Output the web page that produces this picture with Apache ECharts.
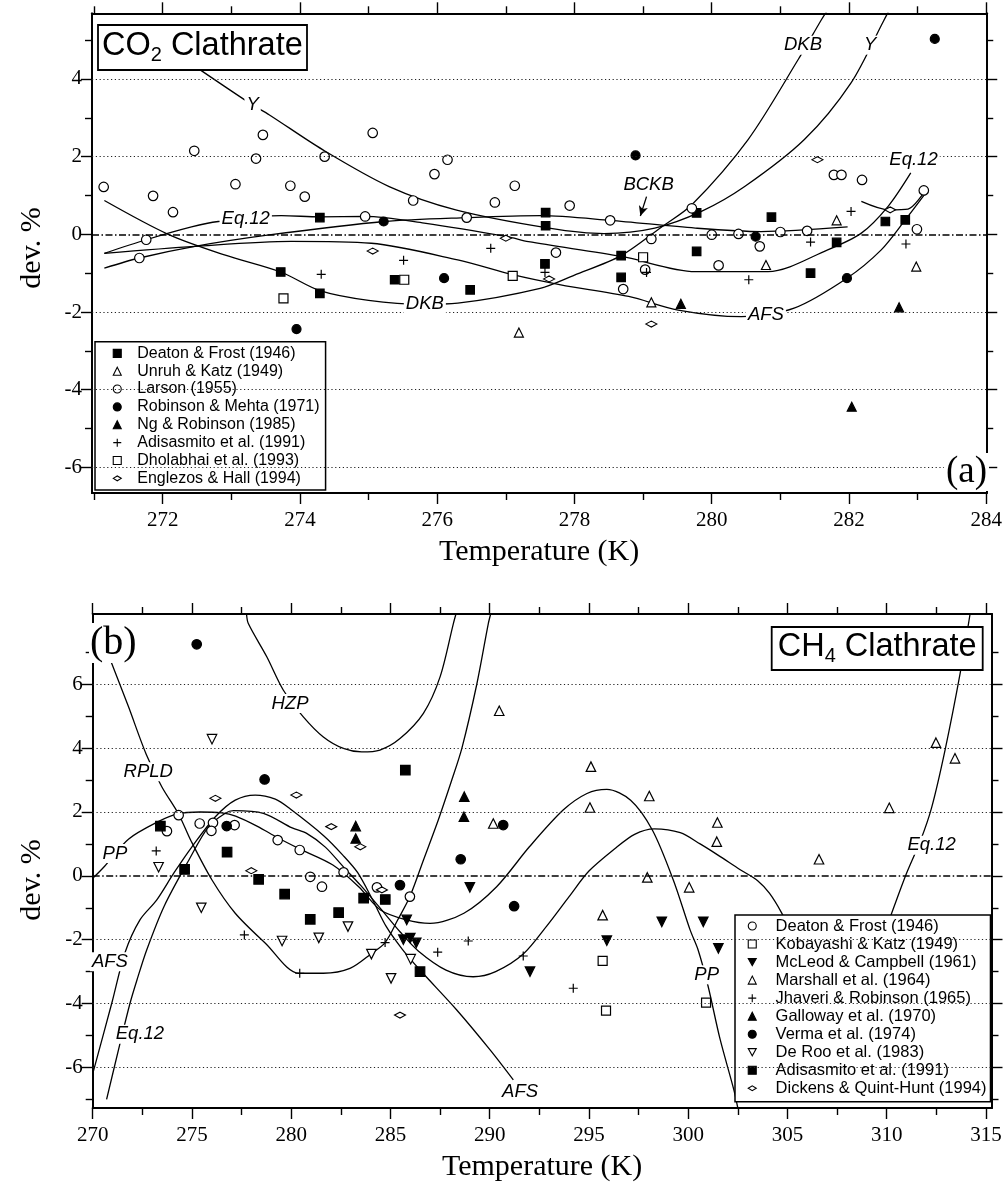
<!DOCTYPE html>
<html>
<head>
<meta charset="utf-8">
<script src="https://cdn.jsdelivr.net/npm/echarts@6/dist/echarts.min.js"></script>
<style>
  html, body { margin: 0; padding: 0; background: #fff; }
  #chart { width: 1005px; height: 1186px; }
</style>
</head>
<body>
<div id="chart"></div>
<script>
// ---------- (a) CO2 clathrate: deviations of measured dissociation pressures ----------
const co2DeatonFrost = [[274.29,0.43],[273.72,-0.97],[274.29,-1.52],[275.38,-1.17],[276.48,-1.43],[277.58,0.56],[277.58,0.22],[277.57,-0.76],[278.68,-0.55],[278.68,-1.11],[279.78,0.55],[279.78,-0.44],[280.87,0.44],[281.44,-1.0],[281.82,-0.21],[282.53,0.33],[282.82,0.37]];
const co2UnruhKatz = [[277.19,-2.53],[279.12,-1.75],[280.79,-0.79],[281.82,0.36],[282.98,-0.83]];
const co2Larson = [[271.14,1.22],[272.46,2.15],[271.86,0.99],[272.15,0.57],[273.06,1.29],[273.36,1.95],[273.46,2.56],[273.86,1.25],[274.07,0.97],[274.36,2.0],[275.06,2.61],[275.65,0.87],[275.96,1.55],[276.15,1.92],[276.84,0.82],[277.13,1.25],[274.95,0.46],[276.43,0.43],[271.76,-0.14],[271.66,-0.61],[277.93,0.74],[277.73,-0.47],[278.52,0.36],[278.71,-1.41],[279.12,-0.12],[279.71,0.67],[280.0,-0.01],[280.10,-0.80],[280.39,0.01],[280.70,-0.31],[281.0,0.06],[281.39,0.09],[281.78,1.53],[281.89,1.53],[282.19,1.40],[283.09,1.13],[282.99,0.13],[279.03,-0.91]];
const co2RobinsonMehta = [[275.22,0.33],[276.10,-1.13],[273.95,-2.44],[278.89,2.03],[280.64,-0.06],[281.97,-1.13],[283.25,5.03]];
const co2NgRobinson = [[279.55,-1.79],[282.73,-1.88],[282.04,-4.44]];
const co2Adisasmito = [[274.31,-1.03],[275.51,-0.67],[276.78,-0.36],[277.57,-0.98],[279.05,-0.98],[280.54,-1.17],[281.44,-0.20],[282.03,0.59],[282.83,-0.25]];
const co2Dholabhai = [[273.76,-1.65],[275.52,-1.17],[277.10,-1.07],[279.0,-0.59]];
const co2EnglezosHall = [[275.06,-0.43],[277.0,-0.1],[277.63,-1.15],[279.12,-2.31],[281.54,1.92],[282.6,0.63]];

// fitted-model deviation curves
const co2CurveY = [[272.45,4.35],[273.3,3.34],[273.55,3.08],[274.33,2.18],[275.3,1.23],[276.27,0.63],[277.63,0.16],[278.43,0.02],[279.17,0.16],[279.85,0.59],[280.48,1.23],[281.35,2.44],[282.03,3.9],[282.5,5.48],[282.58,5.75]];
const co2CurveDKB = [[271.15,0.87],[272.08,0.0],[272.9,-0.53],[273.72,-0.97],[274.29,-1.45],[275.0,-1.7],[275.8,-1.8],[276.3,-1.77],[277.5,-1.39],[278.0,-1.05],[278.68,-0.55],[279.27,0.19],[279.71,0.76],[280.53,2.44],[281.26,4.5],[281.6,5.53],[281.68,5.75]];
const co2CurveBCKB = [[271.15,-0.87],[271.66,-0.61],[272.47,-0.31],[273.58,-0.01],[275.23,0.33],[276.44,0.43],[277.51,0.48],[278.52,0.36],[279.76,0.16],[280.72,0.07],[281.98,0.19]];
const co2CurveEq12 = [[271.15,-0.49],[271.76,-0.14],[272.42,0.19],[272.81,0.33],[273.73,0.48],[274.29,0.45],[274.95,0.46],[275.81,0.29],[277.02,-0.06],[277.33,-0.19],[278.69,-0.57],[279.76,-0.96],[280.82,-0.96],[281.69,-0.40],[282.18,0.03],[282.57,0.72],[282.9,1.58]];
const co2CurveAFS = [[271.15,-0.49],[272.47,-0.31],[273.87,-0.18],[275.04,-0.23],[276.3,-0.66],[277.1,-1.04],[277.8,-1.3],[278.79,-1.6],[279.51,-1.95],[280.43,-2.12],[281.2,-1.9],[281.97,-1.13],[282.47,-0.40],[282.82,0.37],[283.1,1.02]];
const co2CurveArc = [[282.18,0.85],[282.59,0.63],[282.86,0.65],[283.1,1.1]];
const co2CurveLabels = [['Y',273.31,3.33],['DKB',281.33,4.87],['Y',282.31,4.87],['BCKB',279.08,1.27],['Eq.12',282.94,1.91],['Eq.12',273.21,0.39],['DKB',275.82,-1.78],['AFS',280.79,-2.08]];
const co2ArrowBCKB = [[279.05,0.97],[278.96,0.47]];

// ---------- (b) CH4 clathrate ----------
const ch4DeatonFrost = [[274.33,1.90],[273.74,1.40],[275.39,1.64],[276.06,1.66],[275.98,1.41],[277.15,1.59],[279.32,1.12],[280.43,0.81],[280.96,-0.03],[281.55,-0.34],[282.64,0.11],[284.32,-0.36],[285.98,-0.65]];
const ch4KobayashiKatz = [[295.69,-2.66],[295.86,-4.22],[300.9,-3.97]];
const ch4McLeodCampbell = [[289.0,-0.36],[285.82,-1.38],[285.65,-2.0],[286.0,-1.95],[286.3,-2.1],[292.03,-3.0],[295.9,-2.03],[298.67,-1.44],[300.76,-1.44],[301.52,-2.27]];
const ch4Marshall = [[295.1,3.42],[295.05,2.14],[298.04,2.50],[301.47,1.67],[301.44,1.07],[297.94,-0.05],[300.05,-0.36],[295.69,-1.23],[312.48,4.17],[313.44,3.68],[310.13,2.13],[306.59,0.52],[290.18,1.64],[290.48,5.17]];
const ch4JhaveriRobinson = [[273.2,0.78],[277.64,-1.85],[280.43,-3.05],[284.73,-2.09],[287.38,-2.39],[288.92,-2.04],[291.69,-2.51],[294.21,-3.52]];
const ch4Galloway = [[283.25,1.56],[283.25,1.17],[288.72,2.48],[288.70,1.85]];
const ch4Verma = [[275.24,7.25],[278.66,3.02],[276.75,1.56],[290.68,1.59],[288.54,0.52],[285.48,-0.29],[291.23,-0.95]];
const ch4DeRoo = [[276.01,4.28],[273.32,0.27],[275.47,-1.0],[279.54,-2.04],[281.39,-1.94],[282.86,-1.59],[284.04,-2.45],[285.03,-3.21],[286.02,-2.61]];
const ch4Adisasmito = [[273.41,1.56],[274.63,0.2],[276.77,0.74],[278.36,-0.11],[279.67,-0.57],[280.96,-1.36],[282.39,-1.15],[283.65,-0.70],[284.74,-0.74],[285.75,3.31],[286.49,-3.0]];
const ch4DickensQuintHunt = [[276.18,2.43],[280.26,2.53],[282.02,1.54],[283.48,0.91],[277.99,0.16],[284.57,-0.44],[285.48,-4.36]];

const ch4CurvePP = [[270.0,-0.08],[270.6,0.3],[271.8,1.15],[273.3,1.7],[274.3,1.95],[275.4,2.0],[276.5,1.97],[277.2,1.87],[278.3,1.55],[279.3,1.2],[280.4,0.85],[282.1,0.34],[283.4,-0.34],[284.5,-1.07],[285.8,-1.38],[287.0,-1.49],[288.7,-1.17],[290.35,-0.34],[292.0,0.91],[293.7,2.06],[294.9,2.58],[295.9,2.71],[297.1,2.37],[298.2,1.43],[299.25,-0.13],[300.1,-1.7],[300.5,-2.32],[301.0,-3.45],[301.6,-5.1],[302.3,-6.7],[302.5,-7.27]];
const ch4CurveRPLD = [[270.85,6.85],[270.96,6.65],[271.8,5.3],[272.7,3.8],[273.48,2.79],[274.33,1.93],[274.95,1.1],[276.01,-0.13],[277.18,-1.17],[278.7,-2.11],[280.38,-3.05],[281.62,-3.05],[282.96,-2.9],[284.05,-2.43],[284.73,-2.09],[285.35,-1.4],[285.98,-0.65],[286.66,0.49],[287.41,1.75],[288.09,3.0],[288.6,4.0],[289.35,6.0],[289.93,7.9],[290.05,8.2]];
const ch4CurveHZP = [[277.75,8.2],[277.84,7.9],[278.77,6.86],[279.6,5.82],[280.61,4.98],[281.62,4.35],[282.63,3.99],[283.55,3.88],[284.47,3.94],[285.48,4.3],[286.66,5.09],[287.5,6.23],[288.17,7.9],[288.3,8.2]];
const ch4CurveAFS = [[270.03,-6.13],[270.96,-3.99],[271.63,-2.4],[272.38,-1.38],[273.22,-0.76],[274.1,0.1],[275.0,0.91],[276.18,1.85],[277.18,2.37],[278.19,2.53],[279.2,2.4],[279.94,2.1],[281.65,1.25],[282.6,0.65],[283.35,0.1],[284.1,-0.75],[284.8,-1.6],[285.6,-2.3],[286.49,-2.95],[288.34,-4.2],[290.02,-5.45],[291.19,-6.39]];
const ch4CurveEq12 = [[270.7,-7.0],[271.38,-5.24],[271.88,-3.99],[272.23,-3.26],[272.72,-2.32],[273.6,-0.95],[274.84,0.49],[275.84,1.54],[276.68,1.96],[277.1,2.04],[278.6,1.96],[280.05,1.5],[280.78,1.33],[281.72,0.9],[282.63,0.28],[283.5,-0.3],[284.4,-0.95],[285.48,-1.75],[286.4,-2.35],[287.8,-2.95],[289.17,-3.16],[290.3,-3.0],[291.69,-2.45],[292.9,-1.55],[294.0,-0.65],[295.0,0.15],[296.3,0.85],[297.3,1.3],[298.3,1.47],[299.6,1.35],[300.6,1.0],[301.5,0.65],[302.6,0.2],[303.5,-0.15],[304.1,-0.55],[304.7,-1.15],[305.3,-1.9]];
const ch4CurveEq12High = [[309.7,-2.1],[310.25,-1.17],[311.0,0.08],[311.7,1.1],[312.26,2.13],[312.94,3.94],[313.7,6.34],[314.2,8.2]];
const ch4CurveLabels = [['HZP',279.94,5.40],['RPLD',272.8,3.26],['PP',271.12,0.70],['AFS',270.87,-2.69],['Eq.12',272.38,-4.96],['AFS',291.53,-6.76],['PP',300.93,-3.1],['Eq.12',312.26,0.96]];

// ---------- axis extents and ticks ----------
const co2TempRange = [270.97, 284.0];
const co2DevRange = [-6.66, 5.69];
const co2TempTicks = [272, 274, 276, 278, 280, 282, 284];
const co2TempMinor = [271, 273, 275, 277, 279, 281, 283];
const co2DevTicks = [-6, -4, -2, 0, 2, 4];
const co2DevMinor = [-5, -3, -1, 1, 3, 5];
const co2GridLines = [-6, -4, -2, 2, 4];

const ch4TempRange = [270, 315.28];
const ch4DevRange = [-7.27, 8.2];
const ch4TempTicks = [270, 275, 280, 285, 290, 295, 300, 305, 310, 315];
const ch4TempMinor = [272.5, 277.5, 282.5, 287.5, 292.5, 297.5, 302.5, 307.5, 312.5];
const ch4DevTicks = [-6, -4, -2, 0, 2, 4, 6];
const ch4DevMinor = [-7, -5, -3, -1, 1, 3, 5, 7];
const ch4GridLines = [-6, -4, -2, 2, 4, 6];

const SERIF = '"Liberation Serif", "Times New Roman", serif';
const SANS = '"Liberation Sans", Arial, Helvetica, sans-serif';

// four axes per dimension and panel: labelled main, minor ticks, opposite major, opposite minor
function axisSet(grid, range, major, minor, sides, name) {
  const base = (pos, ticks, len, labelled) => ({
    type: 'value', gridIndex: grid, min: range[0], max: range[1], position: pos,
    axisLine: { show: true, onZero: false, lineStyle: { color: '#000', width: 1.8 } },
    axisTick: { show: true, customValues: ticks, length: len, lineStyle: { color: '#000', width: 1.4 } },
    axisLabel: labelled ? {
      show: true, customValues: major, fontFamily: SERIF, fontSize: 21, color: '#000',
      margin: sides[0] === 'bottom' ? 17 : 10
    } : { show: false },
    splitLine: { show: false },
    minorTick: { show: false },
    silent: true
  });
  const main = base(sides[0], major, 11, true);
  if (name) {
    Object.assign(main, {
      name: name, nameLocation: 'middle', nameGap: 44,
      nameTextStyle: { fontFamily: SERIF, fontSize: 30, color: '#000' }
    });
  }
  return [main, base(sides[0], minor, 7, false), base(sides[1], major, 11, false), base(sides[1], minor, 7, false)];
}

const xAxes = [
  ...axisSet(0, co2TempRange, co2TempTicks, co2TempMinor, ['bottom', 'top'], 'Temperature (K)'),
  ...axisSet(1, ch4TempRange, ch4TempTicks, ch4TempMinor, ['bottom', 'top'], 'Temperature (K)')
];
const yAxes = [
  ...axisSet(0, co2DevRange, co2DevTicks, co2DevMinor, ['left', 'right'], null),
  ...axisSet(1, ch4DevRange, ch4DevTicks, ch4DevMinor, ['left', 'right'], null)
];

// marker shapes
const PLUS = 'path://M5,0L5,10M0,5L10,5';
const LENS = 'path://M0,3L5,0L10,3L5,6Z';
const LENS_KEY = 'path://M0,-2M0,3L5,0L10,3L5,6ZM10,8';   // same lens, padded to a square box for the key
const DOWN = 'path://M0,0L10,0L5,9Z';

function markers(panel, label, data, shape, fill, size, axis) {
  return {
    type: 'scatter', name: panel + '|' + label, data: data,
    xAxisIndex: axis, yAxisIndex: axis,
    symbol: shape, symbolSize: size,
    itemStyle: { color: fill, borderColor: '#000', borderWidth: 1.2, opacity: 1 },
    z: 3, silent: true, emphasis: { disabled: true }, animation: false
  };
}

function curve(data, axis, extra) {
  return Object.assign({
    type: 'line', data: data, xAxisIndex: axis, yAxisIndex: axis,
    showSymbol: false, symbol: 'none', smooth: 0.3,
    lineStyle: { color: '#000', width: 1.3 }, z: 2, silent: true, animation: false
  }, extra || {});
}

function gridMarks(values) {
  return {
    silent: true, symbol: ['none', 'none'], label: { show: false }, animation: false,
    data: values.map(v => ({ yAxis: v, lineStyle: { type: [1.2, 2.6], width: 1, color: '#222' } }))
      .concat([{ yAxis: 0, lineStyle: { type: [7, 2.5, 1.5, 2.5], width: 1.5, color: '#000' } }])
  };
}

// curve names, each on a white patch that interrupts its curve
function curveLabels(list, axis) {
  return {
    type: 'scatter', xAxisIndex: axis, yAxisIndex: axis, symbolSize: 0.1,
    itemStyle: { color: '#fff', opacity: 1 }, silent: true, z: 5, animation: false,
    emphasis: { disabled: true },
    data: list.map(d => ({ name: d[0], value: [d[1], d[2]] })),
    label: {
      show: true, position: 'inside', formatter: '{b}', fontFamily: SANS, fontStyle: 'italic',
      fontSize: 18.5, color: '#000', opacity: 1, textBorderWidth: 0,
      backgroundColor: '#fff', padding: [0, 2]
    }
  };
}

const co2Series = [
  markers('co2', 'Deaton & Frost (1946)', co2DeatonFrost, 'rect', '#000', 8.5, 0),
  markers('co2', 'Unruh & Katz (1949)', co2UnruhKatz, 'triangle', '#fff', 9, 0),
  markers('co2', 'Larson (1955)', co2Larson, 'circle', '#fff', 9.5, 0),
  markers('co2', 'Robinson & Mehta (1971)', co2RobinsonMehta, 'circle', '#000', 9, 0),
  markers('co2', 'Ng & Robinson (1985)', co2NgRobinson, 'triangle', '#000', 9, 0),
  markers('co2', 'Adisasmito et al. (1991)', co2Adisasmito, PLUS, '#000', 9, 0),
  markers('co2', 'Dholabhai et al. (1993)', co2Dholabhai, 'rect', '#fff', 9, 0),
  markers('co2', 'Englezos & Hall (1994)', co2EnglezosHall, LENS, '#fff', [11, 6], 0)
];
const ch4Series = [
  markers('ch4', 'Deaton & Frost (1946)', ch4DeatonFrost, 'circle', '#fff', 9.5, 4),
  markers('ch4', 'Kobayashi & Katz (1949)', ch4KobayashiKatz, 'rect', '#fff', 9, 4),
  markers('ch4', 'McLeod & Campbell (1961)', ch4McLeodCampbell, DOWN, '#000', 9.5, 4),
  markers('ch4', 'Marshall et al. (1964)', ch4Marshall, 'triangle', '#fff', 9.5, 4),
  markers('ch4', 'Jhaveri & Robinson (1965)', ch4JhaveriRobinson, PLUS, '#000', 9, 4),
  markers('ch4', 'Galloway et al. (1970)', ch4Galloway, 'triangle', '#000', 9.5, 4),
  markers('ch4', 'Verma et al. (1974)', ch4Verma, 'circle', '#000', 9.5, 4),
  markers('ch4', 'De Roo et al. (1983)', ch4DeRoo, DOWN, '#fff', 9.5, 4),
  markers('ch4', 'Adisasmito et al. (1991)', ch4Adisasmito, 'rect', '#000', 9.5, 4),
  markers('ch4', 'Dickens & Quint-Hunt (1994)', ch4DickensQuintHunt, LENS, '#fff', [11, 6], 4)
];

const series = [
  curve(co2CurveY, 0, { markLine: gridMarks(co2GridLines) }),
  curve(co2CurveDKB, 0),
  curve(co2CurveBCKB, 0, {
    markLine: {
      silent: true, symbol: ['none', 'arrow'], symbolSize: [7, 10], label: { show: false }, animation: false,
      lineStyle: { type: 'solid', color: '#000', width: 1.3 },
      data: [[{ coord: co2ArrowBCKB[0] }, { coord: co2ArrowBCKB[1] }]]
    }
  }),
  curve(co2CurveEq12, 0),
  curve(co2CurveAFS, 0),
  curve(co2CurveArc, 0),
  curve(ch4CurvePP, 4, { markLine: gridMarks(ch4GridLines) }),
  curve(ch4CurveRPLD, 4),
  curve(ch4CurveHZP, 4),
  curve(ch4CurveAFS, 4),
  curve(ch4CurveEq12, 4),
  curve(ch4CurveEq12High, 4),
  ...co2Series,
  ...ch4Series,
  curveLabels(co2CurveLabels, 0),
  curveLabels(ch4CurveLabels, 4)
];

function legendBox(list, left, top, padding, lineHeight, fontSize, textPad) {
  return {
    data: list.map(s => s.symbol === LENS ? { name: s.name, icon: LENS_KEY } : { name: s.name }),
    orient: 'vertical', left: left, top: top, padding: padding,
    itemWidth: 8, itemHeight: 8, itemGap: 0, selectedMode: false,
    backgroundColor: '#fff', borderColor: '#000', borderWidth: 1.5, borderRadius: 0,
    itemStyle: { borderWidth: 1.1, borderColor: '#000' },
    textStyle: { fontFamily: SANS, fontSize: fontSize, color: '#000', lineHeight: lineHeight, padding: [0, 0, 0, textPad] },
    formatter: n => n.split('|')[1]
  };
}

const boxTitle = (main, sub, rest, left, top, padding) => ({
  text: '{m|' + main + '}{s|' + sub + '}{m|' + rest + '}',
  left: left, top: top, padding: padding,
  backgroundColor: '#fff', borderColor: '#000', borderWidth: 1.8,
  textStyle: {
    rich: {
      m: { fontFamily: SANS, fontSize: 32.5, fontWeight: 'normal', color: '#000', lineHeight: 37 },
      s: { fontFamily: SANS, fontSize: 20, fontWeight: 'normal', color: '#000', lineHeight: 12, verticalAlign: 'bottom' }
    }
  }
});

const option = {
  animation: false,
  backgroundColor: '#fff',
  grid: [
    { left: 92, top: 13.3, width: 899.5, height: 479.7 },
    { left: 92.7, top: 614, width: 898.8, height: 494 }
  ],
  xAxis: xAxes,
  yAxis: yAxes,
  title: [
    boxTitle('CO', '2', ' Clathrate', 98, 23, [5, 4, 5, 4]),
    boxTitle('CH', '4', ' Clathrate', 771.7, 625, [4, 6, 4, 6]),
    { text: '(a)', right: 16, top: 453, padding: [0, 2, 0, 2], backgroundColor: '#fff',
      textStyle: { fontFamily: SERIF, fontSize: 37, fontWeight: 'normal', color: '#000', lineHeight: 38 } },
    { text: '(b)', left: 89, top: 623, padding: [0, 1, 0, 1], backgroundColor: '#fff',
      textStyle: { fontFamily: SERIF, fontSize: 40, fontWeight: 'normal', color: '#000', lineHeight: 40 } }
  ],
  legend: [
    legendBox(co2Series, 95, 341.7, [2.7, 6, 2.7, 17.7], 17.86, 16, 11),
    legendBox(ch4Series, 735, 915, [2, 4, 4.4, 12.7], 18.03, 16.5, 14.3)
  ],
  graphic: [
    { type: 'text', x: 32, y: 248, rotation: Math.PI / 2, silent: true,
      style: { text: 'dev. %', font: '30px ' + SERIF, fill: '#000', align: 'center', verticalAlign: 'middle' } },
    { type: 'text', x: 32, y: 880, rotation: Math.PI / 2, silent: true,
      style: { text: 'dev. %', font: '30px ' + SERIF, fill: '#000', align: 'center', verticalAlign: 'middle' } }
  ],
  series: series
};

const chart = echarts.init(document.getElementById('chart'), null, { renderer: 'canvas' });
chart.setOption(option);
</script>
</body>
</html>
